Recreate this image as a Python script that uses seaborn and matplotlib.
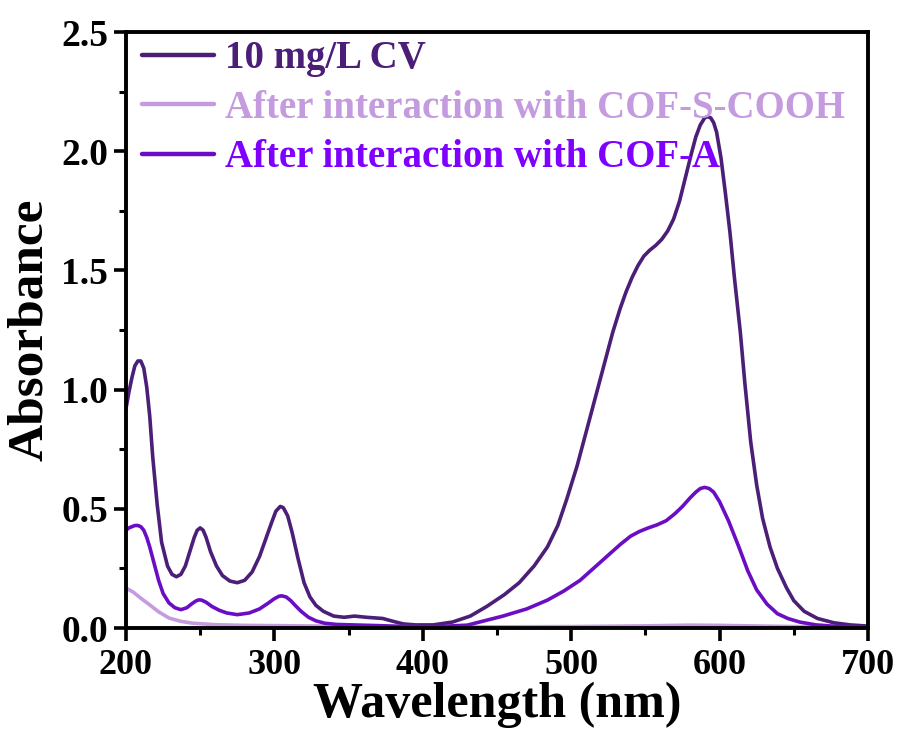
import numpy as np
import pandas as pd
import matplotlib
matplotlib.use("Agg")
import matplotlib.pyplot as plt
from matplotlib.ticker import MultipleLocator, FormatStrFormatter
import seaborn as sns

# UV-vis spectra of crystal violet before/after adsorption
wl_cv = [200, 202, 204, 206, 208, 210, 212, 214, 216, 218, 221, 224, 228, 231, 234,
         237, 240, 243, 246, 248, 250, 252, 254, 257, 261, 265, 270, 275, 280, 285,
         290, 294, 298, 301, 304, 306, 309, 312, 316, 320, 324, 328, 333, 340, 347,
         354, 362, 373, 380, 387, 395, 407, 420, 432, 443, 455, 465, 475, 484, 491,
         497, 504, 510, 516, 522, 528, 533, 537, 541, 545, 549, 553, 557, 561, 565,
         569, 573, 577, 581, 584, 587, 590, 592, 594, 596, 598, 601, 604, 607, 610,
         614, 617, 621, 625, 629, 634, 639, 645, 650, 657, 666, 677, 688, 700]
abs_cv = [0.92, 0.99, 1.05, 1.10, 1.12, 1.12, 1.09, 1.01, 0.89, 0.72, 0.52, 0.36,
          0.26, 0.225, 0.215, 0.225, 0.26, 0.32, 0.38, 0.41, 0.42, 0.41, 0.38, 0.32,
          0.26, 0.22, 0.197, 0.19, 0.20, 0.235, 0.30, 0.37, 0.44, 0.49, 0.51, 0.505,
          0.47, 0.40, 0.29, 0.19, 0.13, 0.095, 0.07, 0.05, 0.045, 0.05, 0.045, 0.04,
          0.028, 0.017, 0.013, 0.013, 0.025, 0.05, 0.09, 0.14, 0.19, 0.26, 0.34, 0.43,
          0.54, 0.68, 0.82, 0.96, 1.10, 1.24, 1.34, 1.41, 1.47, 1.52, 1.56, 1.585,
          1.605, 1.63, 1.665, 1.715, 1.79, 1.89, 1.99, 2.06, 2.11, 2.14, 2.145, 2.14,
          2.12, 2.08, 1.97, 1.82, 1.66, 1.47, 1.24, 1.03, 0.78, 0.60, 0.46, 0.34,
          0.25, 0.17, 0.115, 0.07, 0.04, 0.022, 0.013, 0.008]

wl_scooh = [200, 205, 210, 216, 222, 229, 237, 245, 260, 280, 300, 350, 400, 450,
            500, 550, 580, 600, 650, 700]
abs_scooh = [0.168, 0.15, 0.125, 0.097, 0.068, 0.042, 0.028, 0.02, 0.014, 0.011,
             0.01, 0.007, 0.005, 0.005, 0.006, 0.009, 0.012, 0.011, 0.006, 0.004]

wl_a = [200, 202, 204, 206, 208, 210, 212, 214, 216, 219, 222, 225, 229, 233, 237,
        241, 244, 247, 249, 251, 254, 258, 263, 268, 275, 283, 290, 296, 300, 303,
        305, 308, 311, 314, 318, 323, 328, 334, 342, 353, 370, 390, 410, 430, 454,
        470, 484, 495, 506, 515, 524, 533, 540, 546, 552, 558, 564, 570, 575, 580,
        584, 587, 590, 593, 596, 600, 606, 613, 619, 625, 632, 639, 646, 654, 665,
        676, 688, 700]
abs_a = [0.41, 0.42, 0.425, 0.43, 0.43, 0.425, 0.41, 0.38, 0.34, 0.27, 0.20, 0.145,
         0.105, 0.085, 0.077, 0.085, 0.10, 0.113, 0.118, 0.117, 0.108, 0.09, 0.074,
         0.063, 0.056, 0.063, 0.08, 0.105, 0.123, 0.133, 0.135, 0.13, 0.115, 0.095,
         0.07, 0.045, 0.03, 0.02, 0.015, 0.013, 0.01, 0.006, 0.006, 0.012, 0.05, 0.08,
         0.117, 0.155, 0.20, 0.25, 0.30, 0.35, 0.385, 0.405, 0.42, 0.433, 0.45, 0.48,
         0.51, 0.545, 0.57, 0.585, 0.59, 0.585, 0.57, 0.53, 0.45, 0.34, 0.24, 0.16,
         0.10, 0.06, 0.04, 0.025, 0.013, 0.008, 0.006, 0.005]

labels = ["10 mg/L CV", "After interaction with COF-S-COOH", "After interaction with COF-A"]
line_colors = ["#4B1E78", "#C59BE0", "#6A0DC4"]
text_colors = ["#4B1E78", "#C59BE0", "#7F00FF"]

df = pd.concat([
    pd.DataFrame({"wl": wl_cv, "A": abs_cv, "sample": labels[0]}),
    pd.DataFrame({"wl": wl_scooh, "A": abs_scooh, "sample": labels[1]}),
    pd.DataFrame({"wl": wl_a, "A": abs_a, "sample": labels[2]}),
])

sns.set_style("white")
plt.rcParams["font.family"] = ["Liberation Serif", "DejaVu Serif"]
plt.rcParams["font.weight"] = "bold"
plt.rcParams["text.color"] = "black"
plt.rcParams["axes.labelcolor"] = "black"
plt.rcParams["xtick.color"] = "black"
plt.rcParams["ytick.color"] = "black"

fig = plt.figure(figsize=(9.03, 7.34), dpi=100)
ax = fig.add_axes([0.1395, 0.1444, 0.8217, 0.812])

sns.lineplot(data=df, x="wl", y="A", hue="sample", hue_order=labels,
             palette=dict(zip(labels, line_colors)), linewidth=2.6,
             sort=False, estimator=None, ax=ax)

ax.set_xlim(200, 700)
ax.set_ylim(0, 2.5)
ax.xaxis.set_major_locator(MultipleLocator(100))
ax.xaxis.set_minor_locator(MultipleLocator(50))
ax.yaxis.set_major_locator(MultipleLocator(0.5))
ax.yaxis.set_minor_locator(MultipleLocator(0.25))
ax.yaxis.set_major_formatter(FormatStrFormatter("%.1f"))

for sp in ax.spines.values():
    sp.set_visible(True)
    sp.set_color("black")
    sp.set_linewidth(2.8)

ax.tick_params(which="both", direction="out", bottom=True, left=True,
               top=False, right=False, color="black", labelcolor="black")
ax.tick_params(which="major", length=9, width=2.6)
ax.tick_params(which="minor", length=5, width=2.2)
ax.tick_params(axis="x", which="major", labelsize=26, pad=6)
ax.tick_params(axis="y", which="major", labelsize=27, pad=4)
for lbl in ax.get_xticklabels() + ax.get_yticklabels():
    lbl.set_fontweight("bold")

ax.set_xlabel("Wavelength (nm)", fontsize=36, fontweight="bold", labelpad=0,
              color="black")
ax.set_ylabel("Absorbance", fontsize=37, fontweight="bold", labelpad=6,
              color="black")

leg = ax.legend(loc="upper left", bbox_to_anchor=(-0.01, 1.025), frameon=False,
                fontsize=28, handlelength=1.85, handletextpad=0.3,
                labelspacing=0.32, borderaxespad=0.2)
for txt, c in zip(leg.get_texts(), text_colors):
    txt.set_color(c)
    txt.set_fontweight("bold")
for h in leg.get_lines():
    h.set_linewidth(3.2)

fig.savefig("out.png", dpi=100)
